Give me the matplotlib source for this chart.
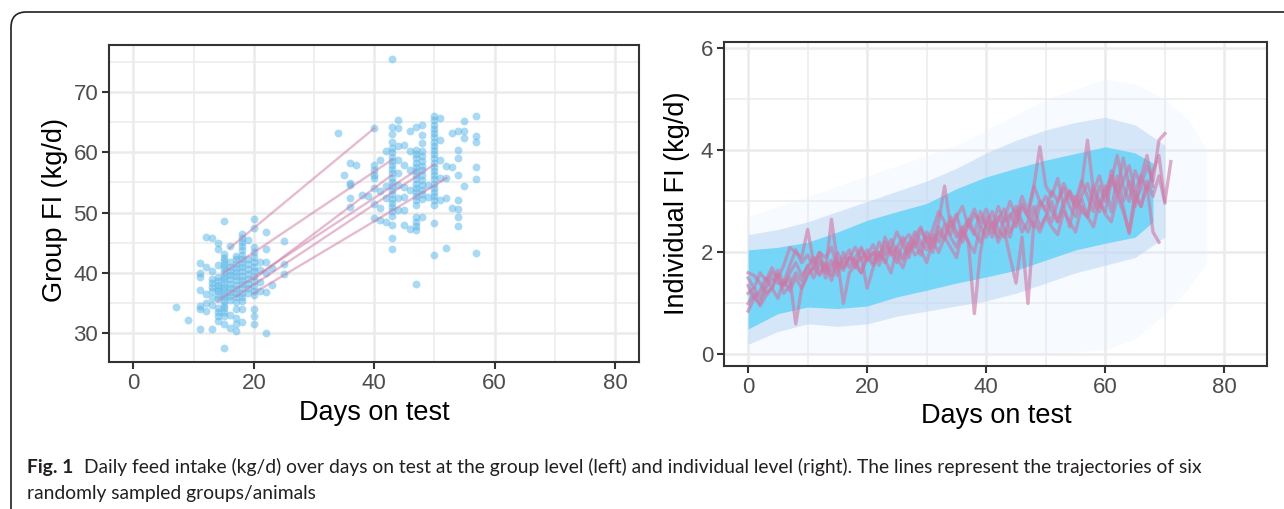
import numpy as np
import matplotlib.pyplot as plt
from matplotlib.patches import FancyBboxPatch
from matplotlib.ticker import MultipleLocator

plt.rcParams['font.family'] = ['Liberation Sans', 'DejaVu Sans']

# ---- group level (left): feed intake per record, by day on test ----
grp_days = [7, 9, 11, 12, 13, 14, 15, 16, 17, 18, 19, 20, 21, 22, 23, 25,
            34, 35, 36, 37, 38, 39, 40, 41, 42, 43, 44, 45, 46, 47, 48, 49,
            50, 51, 52, 53, 54, 55, 57]
grp_fi = [
    [34.3],
    [32.1],
    [41.6, 39.9, 39.3, 37.1, 34.4, 33.9, 30.6],
    [46.0, 41.0, 36.4, 35.0, 33.6],
    [45.8, 40.3, 38.9, 38.3, 37.6, 37.0, 35.8, 34.6, 30.6],
    [45.0, 43.9, 41.3, 39.2, 38.6, 38.0, 37.5, 36.9, 36.3, 35.6, 34.2, 33.4, 32.8, 31.9],
    [48.6, 43.1, 42.5, 41.9, 41.3, 40.7, 40.1, 39.5, 38.9, 38.3, 37.7, 37.1, 36.5,
     35.9, 35.3, 34.7, 34.1, 33.5, 32.8, 31.4, 27.5],
    [44.4, 41.7, 41.0, 40.3, 39.6, 38.9, 38.2, 37.5, 36.8, 36.1, 35.4, 33.0, 30.8],
    [42.8, 42.2, 41.5, 40.8, 40.1, 39.4, 38.7, 38.0, 37.3, 36.6, 35.9, 35.2, 34.0,
     32.5, 31.4, 30.3],
    [46.4, 45.8, 45.1, 44.4, 43.7, 43.0, 42.3, 41.6, 40.9, 40.2, 39.5, 38.8, 38.1,
     37.4, 36.7, 36.0, 35.3, 34.0, 31.8],
    [45.4, 42.2, 41.4, 40.6, 39.8, 39.0, 38.2, 37.4, 36.7],
    [48.9, 47.5, 44.2, 43.4, 42.6, 41.8, 41.0, 40.2, 39.4, 38.6, 37.8, 37.0, 36.3,
     33.9, 32.8, 31.5],
    [41.7, 40.5, 38.5, 36.9],
    [46.7, 43.9, 41.7, 39.9, 36.8, 30.0],
    [40.8, 38.0],
    [45.3, 41.4, 39.8],
    [63.3],
    [56.2],
    [58.2, 54.9, 54.6, 52.4, 51.0],
    [57.9],
    [52.9],
    [52.8],
    [64.1, 57.9, 57.1, 56.3, 55.7, 54.0, 51.4, 49.1],
    [58.8, 53.5, 50.7, 48.8],
    [60.2, 54.4, 52.4, 48.5],
    [75.6, 64.3, 63.1, 61.8, 60.7, 60.0, 59.3, 58.6, 57.9, 57.2, 56.5, 55.8, 55.1,
     54.4, 53.7, 53.0, 52.3, 51.6, 50.9, 50.2, 49.5, 47.9, 45.7, 43.9],
    [65.4, 64.0, 61.0, 58.8, 56.6, 54.6, 52.4, 50.4],
    [61.3, 57.9, 54.3, 52.6, 50.4, 47.9],
    [63.5, 60.2, 57.1, 53.8, 47.2],
    [64.3, 60.4, 59.7, 59.0, 58.3, 57.6, 56.9, 56.2, 55.5, 54.8, 54.1, 53.4, 52.7,
     52.0, 51.3, 49.3, 48.5, 47.7, 47.1, 38.2],
    [64.6, 62.9, 61.5, 60.2, 59.4, 58.6, 57.8, 57.0, 56.2, 55.4, 54.6, 53.8, 53.0,
     52.2, 49.3],
    [54.6, 52.6],
    [66.0, 65.3, 64.6, 63.9, 63.2, 62.5, 61.8, 61.1, 60.4, 59.7, 59.0, 58.3, 57.6,
     56.9, 56.2, 55.5, 54.8, 54.1, 53.4, 52.7, 52.0, 51.3, 48.2, 42.9],
    [65.7, 62.1, 58.8, 55.7, 52.1],
    [57.7, 55.7, 52.4, 44.1],
    [63.2, 57.6, 50.7],
    [63.6, 60.4, 59.0, 56.3, 52.1, 50.6, 49.3, 47.7],
    [65.2, 63.5, 62.4, 54.4],
    [66.1, 62.7, 61.8, 57.6, 55.6, 43.2],
]

# six sampled groups: first and last record
grp_line_day = [[16, 40], [15, 43], [20, 43], [14, 47], [17, 50], [20, 52]]
grp_line_fi = [[44.1, 64.0], [40.0, 58.8], [38.9, 56.3], [35.3, 57.0], [36.0, 58.0], [36.6, 55.7]]

# ---- individual level (right): envelope of the point cloud ----
halo_day = [0, 5, 10, 15, 20, 25, 30, 35, 40, 45, 50, 55, 60, 65, 70, 74, 77]
halo_lo = [0.0, 0.0, 0.0, 0.0, 0.0, 0.0, 0.0, 0.0, 0.0, 0.0, 0.0, 0.05, 0.1, 0.3, 0.8, 1.3, 1.8]
halo_hi = [2.7, 2.9, 3.1, 3.3, 3.5, 3.7, 3.9, 4.1, 4.4, 4.7, 5.0, 5.2, 5.4, 5.3, 5.0, 4.6, 4.0]

mid_day = [0, 5, 10, 15, 20, 25, 30, 35, 40, 45, 50, 55, 60, 65, 70]
mid_lo = [0.2, 0.45, 0.6, 0.55, 0.6, 0.75, 0.85, 0.95, 1.05, 1.2, 1.4, 1.6, 1.75, 1.9, 2.3]
mid_hi = [2.35, 2.45, 2.6, 2.8, 3.0, 3.2, 3.4, 3.65, 3.95, 4.2, 4.4, 4.55, 4.65, 4.5, 4.1]

core_day = [0, 5, 10, 15, 20, 25, 30, 35, 40, 45, 50, 55, 60, 65, 68]
core_lo = [0.5, 0.8, 0.93, 0.9, 0.95, 1.13, 1.26, 1.4, 1.52, 1.65, 1.85, 2.05, 2.18, 2.3, 2.6]
core_hi = [2.05, 2.1, 2.2, 2.4, 2.63, 2.8, 2.96, 3.25, 3.48, 3.65, 3.81, 3.94, 4.07, 3.95, 3.75]

# six sampled animals, daily FI from day 0
animal_a = [0.85, 1.1, 1.0, 1.3, 1.5, 1.4, 1.35, 1.5, 0.6, 1.3,
            1.6, 1.7, 1.55, 1.75, 1.45, 1.8, 1.7, 1.9, 1.85, 1.6,
            1.9, 1.75, 2.0, 1.8, 2.1, 1.9, 1.7, 2.05, 2.2, 1.95,
            2.3, 2.1, 2.4, 2.25, 2.6, 2.3, 2.5, 2.2, 0.8, 2.0,
            2.6, 2.4, 2.7, 2.5, 2.3, 2.8, 2.4, 2.6, 2.9, 2.5,
            2.7, 3.0, 2.6, 2.9, 2.5, 3.1, 2.8, 2.7, 3.2, 2.9,
            3.3, 2.8, 3.5, 3.0, 3.4, 3.1, 2.9, 3.3, 2.4, 2.2]
animal_b = [1.5, 1.3, 1.6, 1.45, 1.7, 1.5, 1.35, 1.6, 1.8, 1.55,
            1.7, 1.9, 1.6, 1.8, 1.55, 2.0, 1.75, 1.9, 1.7, 2.05,
            1.85, 2.0, 1.9, 2.2, 1.95, 2.1, 2.3, 2.0, 2.25, 2.1,
            2.4, 2.2, 2.6, 3.3, 2.5, 2.75, 2.3, 2.6, 2.85, 2.5,
            2.7, 2.5, 2.9, 2.6, 2.75, 2.5, 2.9, 2.7, 3.3, 4.07,
            3.3, 3.1, 3.45, 2.9, 3.2, 3.0, 3.4, 3.1, 2.8, 3.3,
            3.0, 3.6, 3.2, 3.85, 3.3, 2.9, 3.5, 3.2, 3.6, 3.9,
            3.0, 3.78]
animal_c = [1.35, 1.1, 1.25, 1.5, 1.3, 1.65, 1.4, 1.75, 2.05, 1.8,
            1.95, 1.7, 2.0, 1.6, 2.65, 1.8, 1.65, 1.9, 2.1, 1.85,
            2.05, 1.8, 2.2, 1.95, 2.1, 2.4, 2.15, 1.9, 2.3, 2.5,
            2.2, 2.45, 2.8, 2.6, 2.35, 2.7, 2.9, 2.5, 2.75, 2.6,
            2.85, 2.55, 2.3, 2.65, 3.0, 2.7, 3.1, 2.8, 3.3, 3.0,
            2.85, 3.2, 3.0, 3.35, 3.1, 2.9, 3.3, 4.2, 3.2, 3.5,
            3.1, 3.4, 3.9, 3.3, 3.0, 3.6, 3.3, 3.7, 3.4, 4.2,
            4.33]
animal_d = [1.6, 1.55, 1.4, 1.2, 1.3, 1.1, 1.45, 1.25, 1.5, 1.3,
            1.55, 1.7, 1.9, 1.5, 1.75, 1.85, 1.0, 1.6, 1.75, 1.9,
            1.3, 1.7, 2.0, 1.85, 1.6, 2.1, 1.9, 2.2, 1.95, 2.05,
            1.8, 2.25, 2.0, 2.3, 2.1, 1.9, 2.4, 2.2, 2.0, 2.5,
            2.3, 2.6, 2.2, 2.45, 1.9, 1.4, 2.3, 1.0, 2.6, 2.4,
            2.7, 2.5, 2.35, 2.8, 2.6, 2.4, 2.9, 2.7, 2.5, 3.0,
            2.75, 2.6, 3.1, 2.8, 2.4, 3.2, 2.9, 3.4, 3.1, 3.5,
            2.97]
animal_e = [1.2, 1.3, 1.1, 1.4, 1.6, 1.5, 1.75, 2.1, 2.0, 1.9,
            2.45, 1.8, 2.0, 1.9, 2.1, 1.7, 1.85, 2.05, 1.75, 1.6,
            1.95, 2.15, 1.85, 2.3, 2.0, 1.8, 2.2, 2.35, 2.1, 2.45,
            2.2, 2.0, 2.5, 2.3, 2.7, 2.4, 2.2, 2.55, 2.35, 2.8,
            2.5, 2.3, 2.65, 2.85, 2.4, 2.6, 2.95, 2.7, 2.5, 2.9,
            3.1, 2.8, 2.6, 3.0, 3.2, 2.85, 3.05, 2.7, 3.3, 3.0,
            2.8, 3.4, 3.2, 2.9, 2.37, 3.0, 3.25]
animal_f = [1.0, 1.2, 0.95, 1.15, 1.3, 1.55, 1.2, 1.35, 1.6, 1.45,
            1.75, 1.5, 1.8, 1.65, 1.85, 1.55, 2.0, 1.7, 1.9, 2.1,
            1.85, 2.0, 1.75, 2.05, 2.25, 2.0, 1.85, 2.15, 2.4, 2.2,
            2.05, 2.35, 2.2, 2.55, 2.3, 2.1, 2.45, 2.65, 2.4, 2.2,
            2.55, 2.8, 2.45, 2.3, 2.7, 2.9, 2.6, 2.4, 2.75, 3.0,
            2.8, 2.6, 3.0, 3.25, 2.9, 2.7, 3.1, 3.35, 3.0, 2.8,
            3.2, 3.5, 3.1, 3.4, 3.7, 3.2, 3.5, 3.9, 3.3]
animals = [animal_a, animal_b, animal_c, animal_d, animal_e, animal_f]

caption_bold = 'Fig. 1'
caption_1 = ('Daily feed intake (kg/d) over days on test at the group level (left) and '
             'individual level (right). The lines represent the trajectories of six')
caption_2 = 'randomly sampled groups/animals'

W, H = 1284, 509
fig = plt.figure(figsize=(W / 100, H / 100), dpi=100)


def style(ax):
    ax.grid(which='major', color='#EBEBEB', lw=1.8)
    ax.grid(which='minor', color='#EBEBEB', lw=1.1)
    ax.set_axisbelow(True)
    for s in ax.spines.values():
        s.set_color('#333333')
        s.set_linewidth(1.5)
    ax.tick_params(which='major', length=5, width=1.5, color='#333333',
                   labelsize=16, labelcolor='#4D4D4D', pad=3)
    ax.tick_params(which='minor', length=0)


# left panel
ax1 = fig.add_axes([109.3 / W, 1 - 361.7 / H, (639 - 109.3) / W, (361.7 - 45) / H])
style(ax1)
xs, ys = [], []
for d, vals in zip(grp_days, grp_fi):
    xs += [d] * len(vals)
    ys += vals
ax1.scatter(xs, ys, s=32, color='#56B4E9', alpha=0.5, lw=0, zorder=2)
for d, v in zip(grp_line_day, grp_line_fi):
    ax1.plot(d, v, color='#CC79A7', alpha=0.5, lw=1.7, zorder=3)
ax1.set_xlim(-4, 84)
ax1.set_ylim(25.2, 77.85)
ax1.xaxis.set_major_locator(MultipleLocator(20))
ax1.xaxis.set_minor_locator(MultipleLocator(10))
ax1.yaxis.set_major_locator(MultipleLocator(10))
ax1.yaxis.set_minor_locator(MultipleLocator(5))

# right panel
ax2 = fig.add_axes([724.3 / W, 1 - 365.7 / H, (1266.7 - 724.3) / W, (365.7 - 41.7) / H])
style(ax2)
ax2.fill_between(halo_day, halo_lo, halo_hi, color='#E3EEFC', alpha=0.25, lw=0, zorder=1)
ax2.fill_between(mid_day, mid_lo, mid_hi, color='#B7D3F6', alpha=0.5, lw=0, zorder=1)
ax2.fill_between(core_day, core_lo, core_hi, color='#6FD5F7', alpha=0.93, lw=0, zorder=1)
for vals in animals:
    ax2.plot(range(len(vals)), vals, color='#CC79A7', alpha=0.62, lw=2.4, zorder=3)
ax2.set_xlim(-4, 87.1)
ax2.set_ylim(-0.22, 6.13)
ax2.xaxis.set_major_locator(MultipleLocator(20))
ax2.xaxis.set_minor_locator(MultipleLocator(10))
ax2.yaxis.set_major_locator(MultipleLocator(2))
ax2.yaxis.set_minor_locator(MultipleLocator(1))

# axis titles
fig.text(374 / W, 1 - 413 / H, 'Days on test', fontsize=19.5, ha='center', va='center')
fig.text(996 / W, 1 - 416 / H, 'Days on test', fontsize=19.5, ha='center', va='center')
fig.text(55 / W, 1 - 210 / H, 'Group FI (kg/d)', fontsize=19.5, rotation=90,
         ha='center', va='center')
fig.text(677 / W, 1 - 203 / H, 'Individual FI (kg/d)', fontsize=19.5, rotation=90,
         ha='center', va='center')

# outer frame
frame = FancyBboxPatch((11 / W, -30 / H), (1320 - 11) / W, (H + 30 - 12) / H,
                       boxstyle='round,pad=0,rounding_size=0.012',
                       transform=fig.transFigure, fill=False, lw=1.2,
                       ec='#231F20', mutation_aspect=W / H)
fig.patches.append(frame)

# caption, fitted to the line width of the reference
cap_font = ['Lato', 'DejaVu Sans']
x0, x_end = 27, 1205
size = 13.0
renderer = fig.canvas.get_renderer()
for _ in range(3):
    for t in list(fig.texts[4:]):
        t.remove()
    tb = fig.text(x0 / W, 1 - 473 / H, caption_bold, fontsize=size, fontweight='bold',
                  family=cap_font, color='#231F20', va='baseline')
    wb = tb.get_window_extent(renderer).width
    gap = size * 0.75
    t1 = fig.text((x0 + wb + gap) / W, 1 - 473 / H, caption_1, fontsize=size,
                  family=cap_font, color='#231F20', va='baseline')
    w1 = t1.get_window_extent(renderer).width
    size *= (x_end - x0) / (wb + gap + w1)
fig.text(x0 / W, 1 - 499 / H, caption_2, fontsize=size, family=cap_font,
         color='#231F20', va='baseline')

fig.savefig('out.png', dpi=100)
